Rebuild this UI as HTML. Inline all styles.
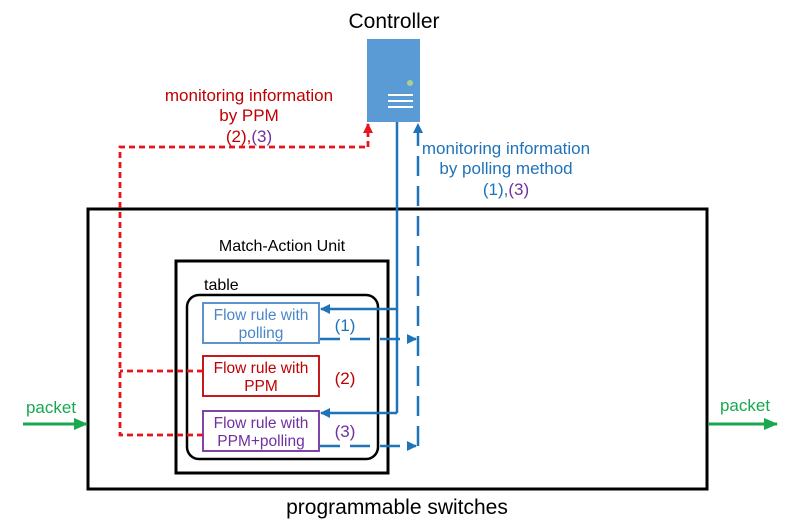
<!DOCTYPE html>
<html><head><meta charset="utf-8"><style>
html,body{margin:0;padding:0;background:#fff;}
svg{display:block;font-family:"Liberation Sans",Arial,sans-serif;}
</style></head><body>
<svg width="794" height="531" viewBox="0 0 794 531" xmlns="http://www.w3.org/2000/svg">
<defs>
<marker id="ab" markerWidth="10" markerHeight="10" refX="9" refY="5" orient="auto" markerUnits="userSpaceOnUse"><path d="M0,0 L10,5 L0,10 Z" fill="#1f73b9"/></marker>
<marker id="ar" markerWidth="10" markerHeight="10" refX="9" refY="5" orient="auto" markerUnits="userSpaceOnUse"><path d="M0,0 L10,5 L0,10 Z" fill="#e8141c"/></marker>
<marker id="ag" markerWidth="14" markerHeight="12" refX="13" refY="6" orient="auto" markerUnits="userSpaceOnUse"><path d="M0,0 L14,6 L0,12 Z" fill="#17a850"/></marker>
</defs>
<rect width="794" height="531" fill="#fff"/>
<text x="394" y="28" font-size="21" text-anchor="middle" fill="#000">Controller</text>
<rect x="367" y="39" width="53" height="83" fill="#5b9bd5"/>
<circle cx="410" cy="83" r="3" fill="#a9d18e"/>
<rect x="388" y="94" width="25" height="2" fill="#fff"/>
<rect x="388" y="100" width="25" height="2" fill="#fff"/>
<rect x="388" y="106" width="25" height="2" fill="#fff"/>
<g font-size="17" text-anchor="middle">
<text x="249" y="101" fill="#c00000">monitoring information</text>
<text x="249" y="121" fill="#c00000">by PPM</text>
<text x="249" y="142"><tspan fill="#c00000">(2),</tspan><tspan fill="#7030a0">(3)</tspan></text>
<text x="506" y="154" fill="#1f73b9">monitoring information</text>
<text x="506" y="174" fill="#1f73b9">by polling method</text>
<text x="506" y="195"><tspan fill="#1f73b9">(1),</tspan><tspan fill="#7030a0">(3)</tspan></text>
</g>
<rect x="88" y="209" width="619" height="280" fill="none" stroke="#000" stroke-width="3"/>
<text x="397" y="514" font-size="21" text-anchor="middle" fill="#000">programmable switches</text>
<text x="282" y="251" font-size="16" text-anchor="middle" fill="#000">Match-Action Unit</text>
<rect x="176" y="261" width="212" height="212" fill="none" stroke="#000" stroke-width="3"/>
<text x="204" y="290" font-size="16" fill="#000">table</text>
<rect x="187" y="295" width="191" height="164" rx="12" fill="none" stroke="#000" stroke-width="2.5"/>
<rect x="203" y="303" width="116" height="40" fill="#fff" stroke="#4a86c8" stroke-width="1.8"/>
<text x="261" y="320" font-size="15.5" text-anchor="middle" fill="#4a86c8">Flow rule with</text>
<text x="261" y="338" font-size="15.5" text-anchor="middle" fill="#4a86c8">polling</text>
<rect x="203" y="356" width="116" height="40" fill="#fff" stroke="#c00000" stroke-width="1.8"/>
<text x="261" y="373" font-size="15.5" text-anchor="middle" fill="#c00000">Flow rule with</text>
<text x="261" y="391" font-size="15.5" text-anchor="middle" fill="#c00000">PPM</text>
<rect x="203" y="411" width="116" height="40" fill="#fff" stroke="#7030a0" stroke-width="1.8"/>
<text x="261" y="428" font-size="15.5" text-anchor="middle" fill="#7030a0">Flow rule with</text>
<text x="261" y="446" font-size="15.5" text-anchor="middle" fill="#7030a0">PPM+polling</text>
<text x="345" y="331" font-size="17" text-anchor="middle" fill="#1f73b9">(1)</text>
<text x="345" y="384" font-size="17" text-anchor="middle" fill="#c00000">(2)</text>
<text x="345" y="437" font-size="17" text-anchor="middle" fill="#7030a0">(3)</text>
<path d="M397,122 V413" stroke="#1f73b9" stroke-width="2.5" fill="none"/>
<path d="M397,309 H321" stroke="#1f73b9" stroke-width="2.5" fill="none" marker-end="url(#ab)"/>
<path d="M397,413 H321" stroke="#1f73b9" stroke-width="2.5" fill="none" marker-end="url(#ab)"/>
<path d="M320,339 H416" stroke="#1f73b9" stroke-width="2.5" stroke-dasharray="20,10" fill="none" marker-end="url(#ab)"/>
<path d="M320,446 H416" stroke="#1f73b9" stroke-width="2.5" stroke-dasharray="20,10" fill="none" marker-end="url(#ab)"/>
<path d="M418,446 V124" stroke="#1f73b9" stroke-width="2.5" stroke-dasharray="20,10" fill="none" marker-end="url(#ab)"/>
<path d="M203,371 H120 M203,435 H120 V147 H368" stroke="#e8141c" stroke-width="2.8" stroke-dasharray="6,4" fill="none"/>
<path d="M368,147 V124" stroke="#e8141c" stroke-width="2.8" stroke-dasharray="6,4" fill="none" marker-end="url(#ar)"/>
<text x="51" y="413" font-size="17" text-anchor="middle" fill="#17a850">packet</text>
<path d="M23,424 H87" stroke="#17a850" stroke-width="3" fill="none" marker-end="url(#ag)"/>
<text x="745" y="411" font-size="17" text-anchor="middle" fill="#17a850">packet</text>
<path d="M708,424 H777" stroke="#17a850" stroke-width="3" fill="none" marker-end="url(#ag)"/>
</svg>
</body></html>
